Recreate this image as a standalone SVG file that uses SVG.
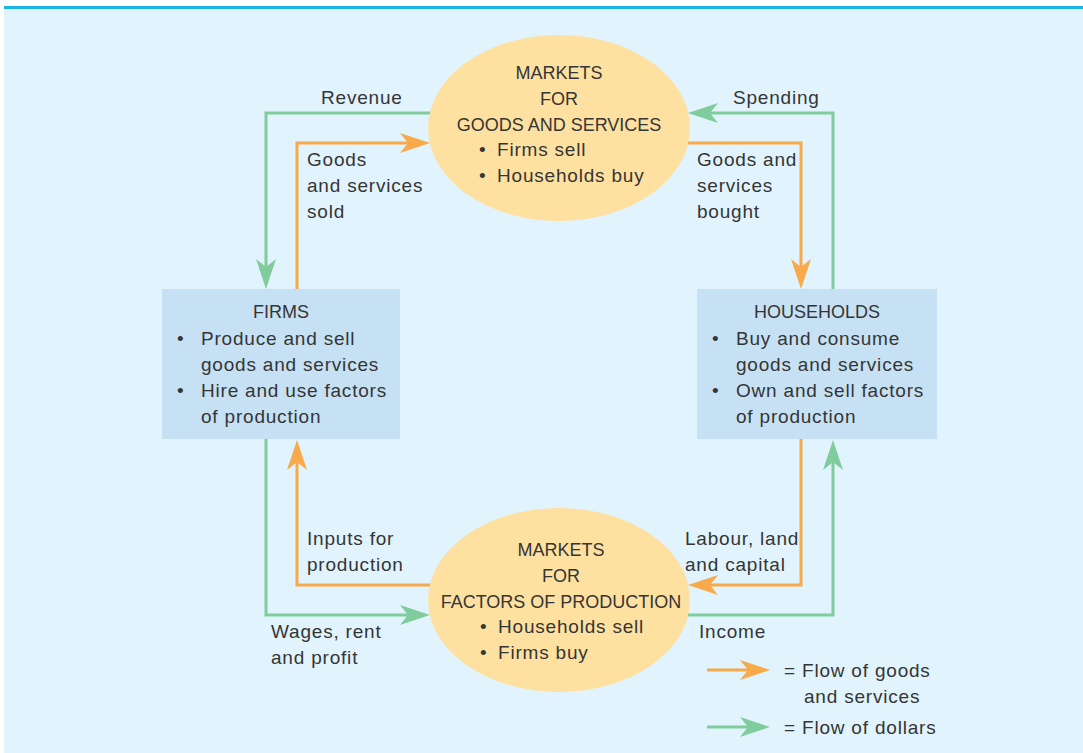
<svg xmlns="http://www.w3.org/2000/svg" width="1083" height="753" viewBox="0 0 1083 753">
  <style>
    text { font-family: "Liberation Sans", Arial, sans-serif; font-size: 19px; letter-spacing: 0.8px; fill: #353535; }
    text.caps { font-size: 18px; letter-spacing: 0; }
    .c { text-anchor: middle; }
    .market { fill: #fee1a0; }
    .box { fill: #c6e1f4; }
    .goods { fill: none; stroke: #f8a94a; stroke-width: 3; marker-end: url(#arrowOrange); }
    .dollars { fill: none; stroke: #80cc9c; stroke-width: 3; marker-end: url(#arrowGreen); }
  </style>
  <defs>
    <!-- barbed arrowheads; the path stops 10px short, the tip lands on the target -->
    <marker id="arrowOrange" viewBox="0 0 30 20" refX="20" refY="10" markerWidth="30" markerHeight="20" markerUnits="userSpaceOnUse" orient="auto">
      <path d="M0,0 L30,10 L0,20 L8,10 Z" fill="#f8a94a"/>
    </marker>
    <marker id="arrowGreen" viewBox="0 0 30 20" refX="20" refY="10" markerWidth="30" markerHeight="20" markerUnits="userSpaceOnUse" orient="auto">
      <path d="M0,0 L30,10 L0,20 L8,10 Z" fill="#80cc9c"/>
    </marker>
  </defs>

  <!-- page panel -->
  <rect x="0" y="0" width="1083" height="753" fill="#ffffff"/>
  <rect x="4" y="9" width="1079" height="744" fill="#e1f3fd"/>
  <rect x="4" y="6" width="1079" height="3" fill="#1ab4e8"/>

  <!-- markets for goods and services -->
  <g id="goods-market">
    <ellipse class="market" cx="559" cy="128" rx="131" ry="93"/>
    <text class="c caps" x="559" y="79">MARKETS</text>
    <text class="c caps" x="559" y="105">FOR</text>
    <text class="c caps" x="559" y="131">GOODS AND SERVICES</text>
    <text x="479" y="156">•</text><text x="497" y="156">Firms sell</text>
    <text x="479" y="182">•</text><text x="497" y="182">Households buy</text>
  </g>

  <!-- markets for factors of production -->
  <g id="factor-market">
    <ellipse class="market" cx="559" cy="600" rx="131" ry="92"/>
    <text class="c caps" x="561" y="556">MARKETS</text>
    <text class="c caps" x="561" y="582">FOR</text>
    <text class="c caps" x="561" y="608">FACTORS OF PRODUCTION</text>
    <text x="480" y="633">•</text><text x="498" y="633">Households sell</text>
    <text x="480" y="659">•</text><text x="498" y="659">Firms buy</text>
  </g>

  <!-- firms -->
  <g id="firms">
    <rect class="box" x="162" y="289" width="238" height="150"/>
    <text class="c caps" x="281" y="318">FIRMS</text>
    <text x="177" y="345">•</text><text x="201" y="345">Produce and sell</text>
    <text x="201" y="371">goods and services</text>
    <text x="177" y="397">•</text><text x="201" y="397">Hire and use factors</text>
    <text x="201" y="423">of production</text>
  </g>

  <!-- households -->
  <g id="households">
    <rect class="box" x="697" y="289" width="240" height="150"/>
    <text class="c caps" x="817" y="318">HOUSEHOLDS</text>
    <text x="712" y="345">•</text><text x="736" y="345">Buy and consume</text>
    <text x="736" y="371">goods and services</text>
    <text x="712" y="397">•</text><text x="736" y="397">Own and sell factors</text>
    <text x="736" y="423">of production</text>
  </g>

  <!-- flows -->
  <g id="connectors">
    <path class="dollars" d="M430,113 H266 V279"/>
    <path class="goods" d="M297,289 V143 H420"/>
    <path class="dollars" d="M833,289 V113 H698"/>
    <path class="goods" d="M688,143 H801 V279"/>
    <path class="dollars" d="M266,439 V615 H420"/>
    <path class="goods" d="M430,585 H297 V450"/>
    <path class="goods" d="M801,439 V585 H698"/>
    <path class="dollars" d="M688,615 H833 V450"/>
  </g>

  <!-- flow labels -->
  <g id="labels">
    <text x="321" y="104">Revenue</text>
    <text x="307" y="166">Goods</text>
    <text x="307" y="192">and services</text>
    <text x="307" y="218">sold</text>
    <text x="733" y="104">Spending</text>
    <text x="697" y="166">Goods and</text>
    <text x="697" y="192">services</text>
    <text x="697" y="218">bought</text>
    <text x="307" y="545">Inputs for</text>
    <text x="307" y="571">production</text>
    <text x="271" y="638">Wages, rent</text>
    <text x="271" y="664">and profit</text>
    <text x="685" y="545">Labour, land</text>
    <text x="685" y="571">and capital</text>
    <text x="699" y="638">Income</text>
  </g>

  <!-- key -->
  <g id="legend">
    <path class="goods" d="M707,670 H760"/>
    <text x="784" y="677">= Flow of goods</text>
    <text x="804" y="703">and services</text>
    <path class="dollars" d="M707,727 H760"/>
    <text x="784" y="734">= Flow of dollars</text>
  </g>
</svg>
